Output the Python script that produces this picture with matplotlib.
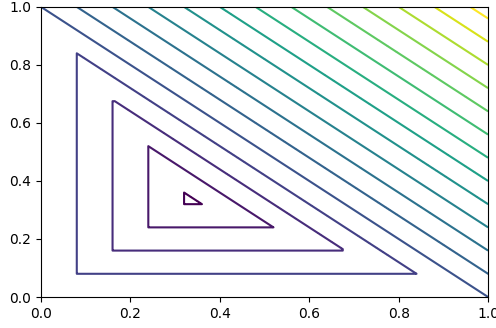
import numpy as np
import matplotlib
matplotlib.use("Agg")
import matplotlib.pyplot as plt

# contour levels (step 0.08)
levels = [-0.32, -0.24, -0.16, -0.08, 0.0, 0.08, 0.16, 0.24, 0.32, 0.40,
          0.48, 0.56, 0.64, 0.72, 0.80, 0.88, 0.96]
xticks = [0.0, 0.2, 0.4, 0.6, 0.8, 1.0]
yticks = [0.0, 0.2, 0.4, 0.6, 0.8, 1.0]

# field: triangular "distance" inside the unit simplex, x+y-1 outside
x = np.linspace(0, 1, 201)
y = np.linspace(0, 1, 201)
X, Y = np.meshgrid(x, y)
Z = np.maximum(np.maximum(-X, -Y), X + Y - 1)

fig = plt.figure(figsize=(4.96, 3.28), dpi=100)
ax = fig.add_axes([0.0827, 0.0945, 0.9013, 0.8845])
ax.contour(X, Y, Z, levels=levels, cmap='viridis')
ax.set_xticks(xticks)
ax.set_yticks(yticks)
ax.set_xlim(0, 1)
ax.set_ylim(0, 1)

fig.savefig('out.png', dpi=100)
